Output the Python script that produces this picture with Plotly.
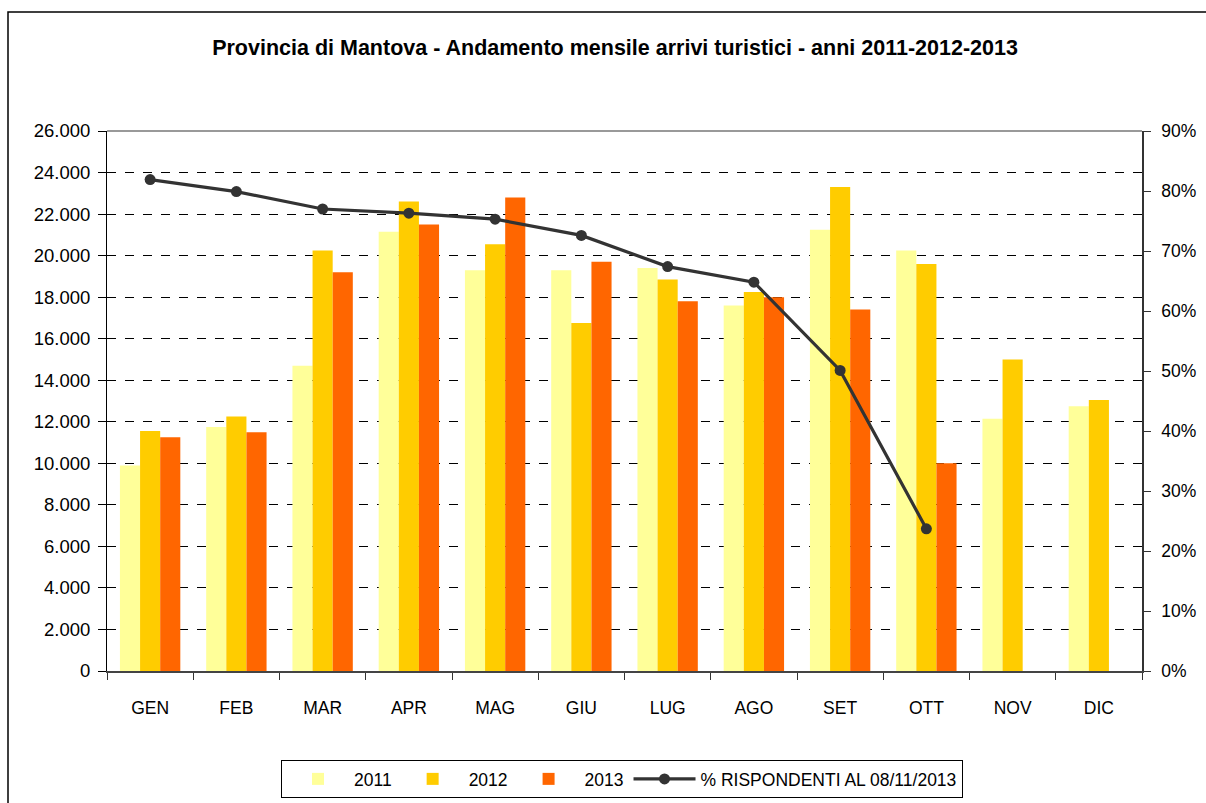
import plotly.graph_objects as go

months = ["GEN", "FEB", "MAR", "APR", "MAG", "GIU", "LUG", "AGO", "SET", "OTT", "NOV", "DIC"]
arrivi_2011 = [9900, 11750, 14700, 21150, 19300, 19300, 19400, 17600, 21250, 20250, 12150, 12750]
arrivi_2012 = [11550, 12250, 20250, 22600, 20550, 16750, 18850, 18250, 23300, 19600, 15000, 13050]
arrivi_2013 = [11250, 11500, 19200, 21500, 22800, 19700, 17800, 18000, 17400, 10000, None, None]
pct_rispondenti = [81.9, 79.9, 77.0, 76.3, 75.3, 72.6, 67.4, 64.8, 50.1, 23.7, None, None]
left_ticks = list(range(0, 26001, 2000))
left_labels = [f"{v:,}".replace(",", ".") for v in left_ticks]

FONT = "Liberation Sans, Arial, sans-serif"

W, H = 1206, 803
L, R, T, B = 107, 1142, 131, 671

def px(x):
    return (x - L) / (R - L)

def py(y):
    return (B - y) / (B - T)

fig = go.Figure()
fig.add_bar(x=months, y=arrivi_2011, name="2011", marker_color="#FFFF99", marker_line_width=0)
fig.add_bar(x=months, y=arrivi_2012, name="2012", marker_color="#FFCC00", marker_line_width=0)
fig.add_bar(x=months, y=arrivi_2013, name="2013", marker_color="#FF6600", marker_line_width=0)
fig.add_scatter(x=months, y=pct_rispondenti, name="% RISPONDENTI AL 08/11/2013", yaxis="y2",
                mode="lines+markers", line=dict(color="#333333", width=3.2),
                marker=dict(color="#333333", size=11))

fig.update_layout(
    width=W, height=H,
    margin=dict(l=L, r=W - R, t=T, b=H - B, autoexpand=False),
    paper_bgcolor="white", plot_bgcolor="white",
    barmode="group", bargap=0.30, bargroupgap=0,
    font=dict(family=FONT, size=17, color="black"),
    title=dict(text="<b>Provincia di Mantova - Andamento mensile arrivi turistici - anni 2011-2012-2013</b>",
               x=px(615), xref="paper", xanchor="center", y=1 - 47 / H, yanchor="middle",
               font=dict(family=FONT, size=21.5, color="black")),
    xaxis=dict(type="category", range=[-0.5, len(months) - 0.5], tickson="boundaries",
               ticks="outside", ticklen=7, tickcolor="#333333",
               showline=True, linecolor="#444444", linewidth=2, showgrid=False,
               ticklabelstandoff=20, tickfont=dict(size=17.5)),
    yaxis=dict(range=[0, 26000], tickvals=left_ticks, ticktext=left_labels,
               ticks="outside", ticklen=8, tickcolor="black",
               showline=True, linecolor="black", linewidth=1,
               showgrid=True, gridcolor="black", gridwidth=1, griddash="dash",
               zeroline=False, ticklabelstandoff=4, tickfont=dict(size=18.5)),
    yaxis2=dict(range=[0, 90], dtick=10, ticksuffix="%", overlaying="y", side="right",
                ticks="outside", ticklen=7, tickcolor="#333333",
                showline=True, linecolor="#333333", linewidth=1.5, showgrid=False,
                zeroline=False, ticklabelstandoff=7, tickfont=dict(size=17.5)),
    legend=dict(orientation="h", x=px(622), xanchor="center", y=py(779), yanchor="middle",
                bordercolor="black", borderwidth=1, bgcolor="white",
                font=dict(size=17.5), itemwidth=62, traceorder="normal"),
    showlegend=True,
)

# top border of plot area (gray)
fig.add_shape(type="line", xref="paper", yref="paper", x0=0, x1=1, y0=1, y1=1,
              line=dict(color="#999999", width=2), layer="above")
# outer chart border
fig.add_shape(type="rect", xref="paper", yref="paper",
              x0=px(8), x1=px(1212), y0=py(12), y1=py(812),
              line=dict(color="black", width=1.5), fillcolor="rgba(0,0,0,0)")

fig.write_html("out.html", config={"displayModeBar": False},
               post_script="document.body.style.margin='0';")
